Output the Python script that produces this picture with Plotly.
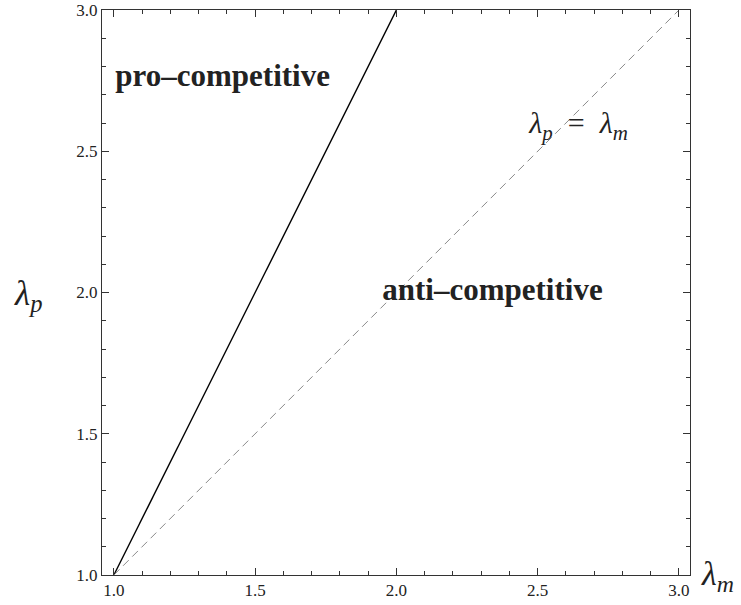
import plotly.graph_objects as go

# data
boundary_x = [1.0, 2.0]
boundary_y = [1.0, 3.0]
diag_x = [1.0, 3.0]
diag_y = [1.0, 3.0]
region_labels = ["pro–competitive", "anti–competitive"]
region_x = [1.385, 2.34]
region_y = [2.76, 2.0]
eq_label = "<i>λ</i><sub><i>p</i></sub>  =  <i>λ</i><sub><i>m</i></sub>"
eq_x = [2.645]
eq_y = [2.59]

FONT = "Liberation Serif"

fig = go.Figure()
fig.add_trace(go.Scatter(x=boundary_x, y=boundary_y, mode="lines",
                         line=dict(color="black", width=1.4), showlegend=False,
                         hoverinfo="skip"))
fig.add_trace(go.Scatter(x=diag_x, y=diag_y, mode="lines",
                         line=dict(color="#8a8a8a", width=1, dash="8px,5px"), showlegend=False,
                         hoverinfo="skip"))
fig.add_trace(go.Scatter(x=region_x, y=region_y, mode="text",
                         text=["<b>" + t + "</b>" for t in region_labels],
                         textfont=dict(family=FONT, size=31, color="#222222"),
                         showlegend=False, hoverinfo="skip"))
fig.add_trace(go.Scatter(x=eq_x, y=eq_y, mode="text", text=[eq_label],
                         textfont=dict(family=FONT, size=30, color="#222222"),
                         showlegend=False, hoverinfo="skip"))

axis_common = dict(
    showgrid=False, zeroline=False, showline=True, linecolor="#333333", linewidth=1,
    mirror="ticks", ticks="inside", ticklen=7, tickcolor="#333333", tickwidth=1,
    dtick=0.5, tickformat=".1f", automargin=False,
    tickfont=dict(family=FONT, size=17, color="#222222"),
    minor=dict(dtick=0.1, ticks="inside", ticklen=4, tickcolor="#333333", tickwidth=1),
)

fig.update_layout(
    width=741, height=605,
    margin=dict(l=102, r=51, t=10, b=30),
    paper_bgcolor="white", plot_bgcolor="white",
    xaxis=dict(range=[0.958, 3.039], tick0=1.0, **axis_common),
    yaxis=dict(range=[1.0, 3.0], tick0=1.0, **axis_common),
    annotations=[
        dict(text="<i>λ</i><sub><i>p</i></sub>", xref="paper", yref="paper",
             x=-0.153, y=0.495, showarrow=False,
             font=dict(family=FONT, size=35, color="#222222")),
        dict(text="<i>λ</i><sub><i>m</i></sub>", xref="paper", yref="paper",
             x=1.015, y=-0.002, xanchor="left", yanchor="middle", showarrow=False,
             font=dict(family=FONT, size=34, color="#222222")),
    ],
)

fig.write_html("out.html", config={"displayModeBar": False},
               post_script="document.body.style.margin='0';document.body.style.overflow='hidden';")
